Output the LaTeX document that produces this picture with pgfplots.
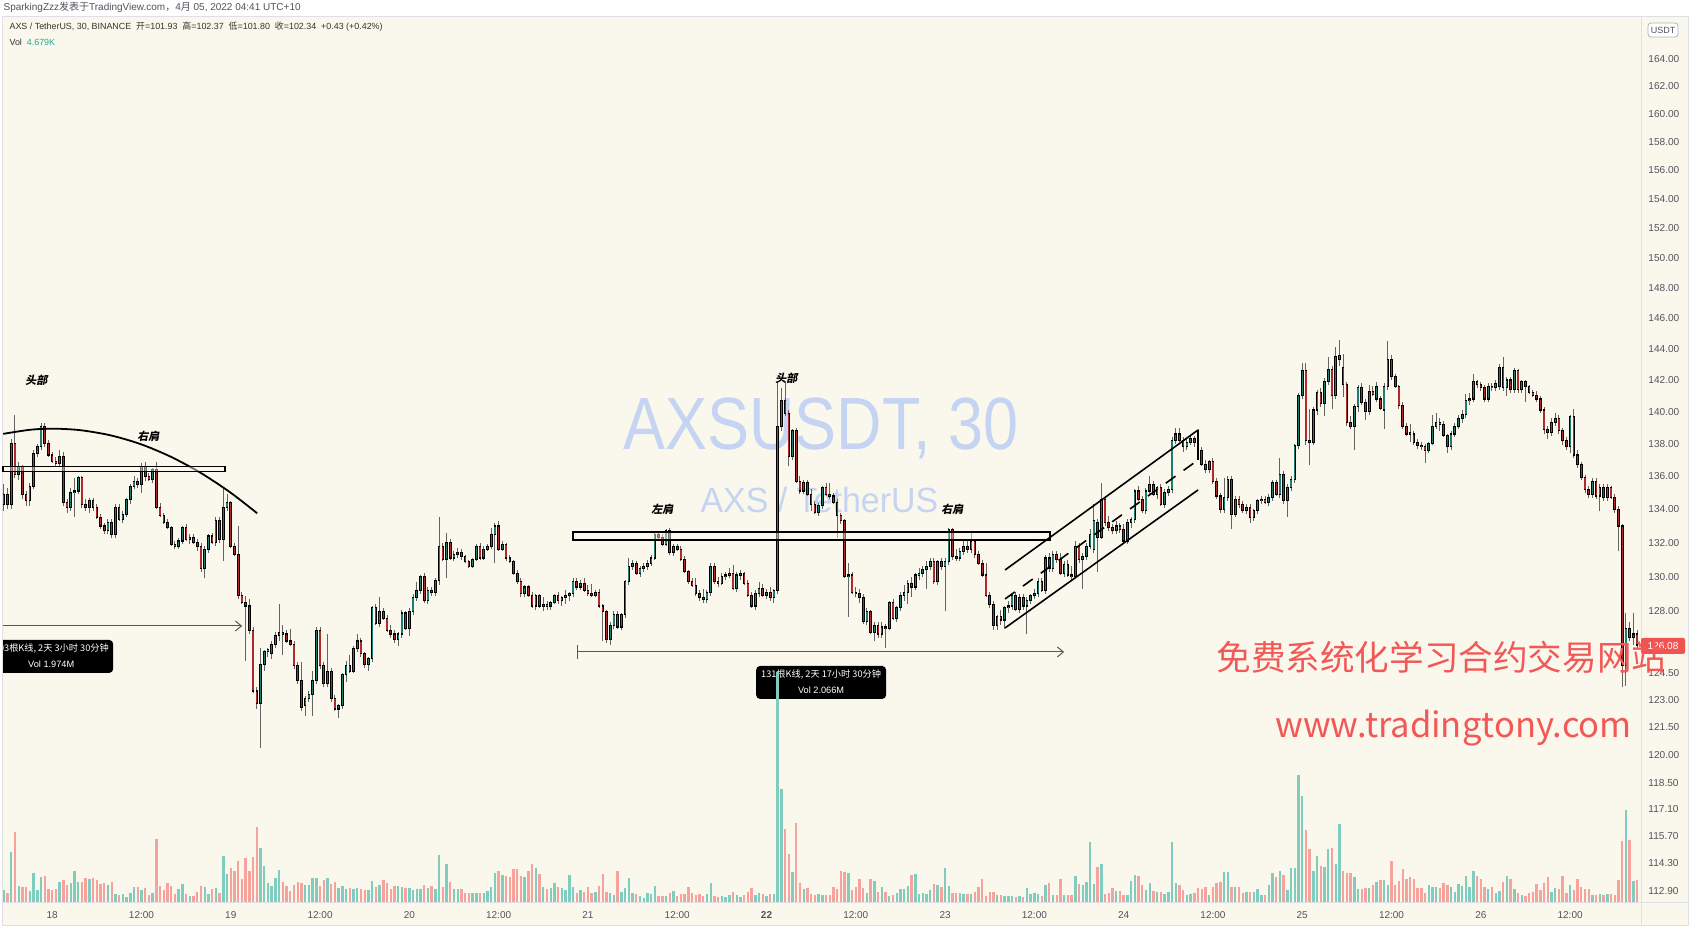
\documentclass[border=0pt]{standalone}
\usepackage{pgfplots}
\pgfplotsset{compat=1.18}
\usepackage{pgfplotstable}
\usepackage{fontspec}
\setmainfont{Liberation Sans}
\newfontfamily\cjk{Noto Sans CJK SC}
\usetikzlibrary{arrows.meta}

\definecolor{bg}{RGB}{250,248,236}
\definecolor{frame}{RGB}{222,224,230}
\definecolor{upc}{RGB}{30,125,112}
\definecolor{dnc}{RGB}{175,42,42}
\definecolor{wickc}{RGB}{100,100,100}
\definecolor{volup}{RGB}{128,204,190}
\definecolor{voldn}{RGB}{246,163,158}
\definecolor{axtext}{RGB}{80,83,94}
\definecolor{wm}{RGB}{197,212,242}
\definecolor{promo}{RGB}{242,88,88}
\definecolor{lastp}{RGB}{240,83,80}
\definecolor{teal}{RGB}{38,166,154}
\definecolor{tool}{RGB}{85,85,85}

% 30-minute candles, k = half-hours after 18 March 00:00, v = volume in K
\pgfplotstableread{
k o h l c v
-13 134.3 135.5 133.9 134.9 11.8
-12 134.9 135.3 134.0 134.3 9
-11 134.3 138.3 134.0 138.0 50
-10 138.0 139.8 135.9 136.1 70
-9 136.1 136.9 135.8 136.6 16
-8 136.6 136.7 134.6 134.9 15
-7 134.9 135.1 134.2 134.5 15
-6 134.5 135.6 134.2 135.4 11
-5 135.4 137.6 135.2 137.4 29
-4 137.4 138.0 137.2 137.8 12
-3 137.8 139.3 137.6 139.1 25
-2 139.1 139.3 137.8 138.0 26
-1 138.0 138.2 137.2 137.3 13
0 137.3 137.5 136.8 136.9 12
1 136.9 137.2 136.6 136.8 13
2 136.8 137.6 136.6 137.2 20
3 137.2 137.5 134.2 134.4 21.5
4 134.4 134.6 133.8 134.1 17
5 134.1 135.3 133.9 135.0 18.5
6 135.0 135.9 133.5 135.1 31
7 135.1 136.0 134.9 135.9 20
8 135.9 136.0 134.1 134.3 20
9 134.3 134.6 133.9 134.1 24
10 134.1 134.7 133.8 134.5 23
11 134.5 134.7 133.9 134.1 24
12 134.1 134.3 133.4 133.5 22
13 133.5 133.7 132.8 133.0 18
14 133.0 133.2 132.5 132.7 18.5
15 132.7 133.4 132.5 133.2 17
16 133.2 133.4 132.3 132.5 20
17 132.5 134.3 132.3 134.1 8
18 134.1 134.3 133.3 133.4 7
19 133.4 133.9 133.2 133.7 8
20 133.7 134.7 133.5 134.6 5
21 134.6 135.5 134.3 135.4 9
22 135.4 136.0 135.2 135.7 14.5
23 135.7 135.9 135.3 135.5 14.5
24 135.5 136.8 135.0 136.6 12
25 136.6 136.9 135.7 136.0 14
26 136.0 136.2 135.7 135.8 7
27 135.8 136.5 135.6 136.4 9
28 136.4 136.9 134.0 134.1 63
29 134.1 134.4 133.5 133.6 16
30 133.6 133.8 133.1 133.2 12
31 133.2 133.4 132.8 132.9 19
32 132.9 133.0 131.8 131.9 16
33 131.9 132.1 131.6 131.8 8
34 131.8 132.3 131.6 132.1 12.5
35 132.1 133.0 131.9 132.9 18
36 132.9 133.1 132.1 132.2 8
37 132.2 132.5 131.9 132.3 6
38 132.3 132.5 131.9 132.0 6
39 132.0 132.2 131.5 131.8 9.5
40 131.8 132.0 130.3 130.5 16
41 130.5 131.8 129.9 131.6 14.5
42 131.6 132.5 131.4 132.4 8
43 132.4 132.6 131.9 132.0 13
44 132.0 133.5 131.8 133.3 14
45 133.3 133.5 132.0 132.2 9
46 132.2 135.3 130.9 134.1 46
47 134.1 134.9 133.9 134.4 28
48 134.4 134.5 131.7 131.8 34
49 131.8 132.0 131.2 131.3 31
50 131.3 133.0 128.7 128.9 41
51 128.9 129.1 128.4 128.5 23
52 128.5 128.9 125.2 128.3 44
53 128.3 128.7 126.7 126.9 31
54 126.9 127.1 123.4 123.5 45
55 123.5 123.7 122.5 122.8 75
56 122.8 125.9 120.4 125.0 54
57 125.0 125.8 124.6 125.7 36
58 125.7 125.9 125.4 125.8 18.5
59 125.6 126.3 125.3 126.1 16
60 126.1 126.8 125.9 126.6 24
61 126.6 128.4 126.3 126.8 32
62 126.8 127.2 125.5 126.7 20
63 126.7 126.9 126.2 126.3 16
64 126.3 127.0 126.0 126.1 11
65 126.1 126.3 124.7 124.9 17
66 124.9 125.1 123.9 124.1 20
67 124.1 125.1 122.4 122.6 18.5
68 122.7 123.2 122.1 123.1 17
69 123.1 123.5 122.9 123.3 17
70 123.3 124.6 122.1 124.1 23.5
71 124.1 127.1 123.9 126.9 23.5
72 126.9 127.1 124.7 124.9 16
73 124.9 125.1 123.7 123.9 22
74 123.9 126.7 123.7 124.6 24
75 124.6 124.8 122.9 123.1 18
76 123.1 123.3 122.4 122.5 20
77 122.5 122.8 122.0 122.7 13.5
78 122.7 124.5 122.5 124.4 15.5
79 124.4 125.2 124.0 124.9 13
80 124.9 125.5 124.5 124.6 14
81 124.6 126.0 124.5 125.9 13
82 125.9 126.7 125.7 126.3 14
83 126.3 126.5 125.4 125.6 13
84 125.6 125.7 124.8 125.0 12
85 125.0 125.4 124.6 125.3 12
86 125.3 128.3 125.1 128.2 21
87 128.2 128.4 127.2 127.3 14.5
88 127.3 128.8 127.1 128.0 17
89 128.0 128.2 127.5 127.6 21.5
90 127.6 127.8 126.8 126.9 18.5
91 126.9 127.2 126.5 126.7 13
92 126.7 126.9 126.2 126.4 16
93 126.4 126.8 126.0 126.7 16
94 126.7 128.1 126.5 127.9 14.5
95 127.9 128.0 126.9 127.0 13.5
96 127.0 128.2 126.6 128.0 14
97 128.0 129.0 127.8 128.8 12
98 128.8 129.7 128.6 129.2 12.5
99 129.2 130.1 129.0 130.0 12.5
100 130.0 130.2 128.5 128.6 17
101 128.6 129.4 128.4 129.2 14
102 129.2 129.4 128.9 129.1 16
103 129.1 129.9 128.9 129.8 12.5
104 129.8 133.5 129.5 131.8 46.5
105 131.8 132.0 130.9 131.0 15
106 131.0 132.6 129.9 132.0 38
107 132.0 132.2 131.0 131.1 20
108 131.1 131.5 130.9 131.3 12.5
109 131.3 131.7 131.1 131.4 13
110 131.4 131.6 131.0 131.2 13
111 131.2 131.3 130.8 130.9 9
112 130.9 131.0 130.5 130.6 9
113 130.6 131.1 130.5 131.0 9
114 131.0 131.9 130.9 131.8 9
115 131.8 132.0 131.0 131.1 9
116 131.1 131.8 131.0 131.6 9
117 131.6 131.9 131.5 131.8 11
118 131.8 132.9 131.6 132.5 15
119 132.5 133.2 130.8 133.0 29
120 133.0 133.3 131.5 131.6 31
121 131.6 132.1 131.5 131.9 26.5
122 131.9 132.0 130.9 131.1 26
123 131.1 131.3 130.8 130.9 24.5
124 130.9 131.0 130.1 130.2 32.5
125 130.2 130.4 129.6 129.7 33
126 129.7 129.9 128.8 129.0 26
127 129.0 129.5 128.8 129.4 25
128 129.4 129.5 128.8 128.9 31
129 128.9 129.1 128.2 128.3 38
130 128.3 129.0 128.1 128.9 34
131 128.9 129.0 128.2 128.3 28
132 128.3 128.8 128.0 128.4 15
133 128.4 128.6 128.1 128.3 12.5
134 128.3 128.6 128.1 128.5 14
135 128.5 129.0 128.4 128.9 18.5
136 128.9 129.1 128.4 128.6 14.5
137 128.6 128.9 128.3 128.8 13.5
138 128.8 129.2 128.4 128.9 12
139 128.9 129.1 128.6 129.0 27
140 129.0 129.9 128.8 129.7 14.5
141 129.7 129.9 129.2 129.4 8.5
142 129.4 129.8 129.2 129.6 12
143 129.6 129.9 129.1 129.2 10
144 129.2 129.5 128.9 129.0 14.5
145 129.0 129.6 128.8 128.9 8.5
146 128.9 129.2 128.8 129.1 9.5
147 129.1 129.3 128.2 128.3 16
148 128.3 128.4 126.3 128.0 27.5
149 128.0 128.1 126.2 126.4 9.5
150 126.4 127.4 126.1 127.2 9
151 127.2 128.0 127.0 127.8 7
152 127.8 128.0 127.0 127.1 31
153 127.1 127.9 126.9 127.8 9.5
154 127.8 129.8 127.6 129.7 13.5
155 129.7 131.1 129.5 130.6 23.5
156 130.6 131.0 130.4 130.8 9
157 130.8 130.9 130.1 130.2 8
158 130.2 130.6 130.0 130.5 6
159 130.5 130.8 130.3 130.6 3.5
160 130.6 131.0 130.4 130.8 8.5
161 130.8 131.3 130.6 131.1 8
162 131.1 132.6 131.0 132.5 15.5
163 132.5 132.7 132.1 132.3 5.5
164 132.3 132.5 131.8 131.9 6
165 131.9 132.8 131.8 132.7 6
166 132.7 132.9 131.3 131.4 8.5
167 131.4 131.9 131.2 131.8 10.5
168 131.8 131.9 131.5 131.6 6
169 131.6 131.8 130.9 131.0 7.5
170 131.0 131.2 130.2 130.3 8
171 130.3 130.4 129.6 129.7 15
172 129.7 129.9 129.4 129.5 8.5
173 129.5 129.9 128.9 129.0 7
174 129.0 129.2 128.6 128.8 7.5
175 128.8 129.3 128.5 128.7 6
176 128.7 129.2 128.5 129.1 8
177 129.1 130.8 128.9 130.6 18.5
178 130.6 130.8 129.6 129.7 6
179 129.7 130.0 129.4 129.6 5
180 129.6 130.2 129.5 130.0 6
181 130.0 130.3 129.8 130.1 5
182 130.1 130.5 129.9 130.2 7
183 130.2 130.7 129.2 129.3 10
184 129.3 130.3 129.1 130.1 6.5
185 130.1 130.4 129.8 130.2 4.5
186 130.2 130.3 129.5 129.6 7
187 129.6 129.8 128.8 128.9 10
188 128.9 129.1 128.2 128.3 13.5
189 128.3 129.2 128.1 129.0 6.5
190 129.0 129.7 128.8 129.3 9
191 129.3 129.6 128.8 128.9 8
192 128.9 129.3 128.7 129.1 6
193 129.1 129.4 128.6 128.8 8
194 128.8 129.3 128.5 129.2 7.5
195 129.2 141.9 129.0 139.1 230
196 139.1 141.5 138.8 140.7 113
197 140.7 141.9 139.7 139.9 73
198 139.9 140.1 136.6 137.2 48
199 137.2 138.9 137.0 138.8 30
200 138.8 139.0 135.6 135.7 78.5
201 135.7 136.0 134.9 135.1 19
202 135.1 135.8 134.9 135.6 13
203 135.6 135.8 134.8 134.9 14
204 134.9 135.2 133.9 134.3 8
205 134.3 134.5 133.7 133.8 7
206 133.8 134.4 133.6 134.2 8
207 134.2 135.4 134.0 135.3 7
208 135.3 135.6 134.8 134.9 7
209 134.9 135.6 134.6 134.8 7
210 134.8 135.0 134.3 134.4 15
211 134.4 134.6 132.3 133.6 13
212 133.6 133.8 133.1 133.3 31
213 133.3 133.4 129.9 130.0 30
214 130.0 130.8 127.7 130.1 28.6
215 130.1 130.3 129.0 129.1 12
216 129.1 129.4 128.8 129.0 14.5
217 129.0 129.3 128.5 128.8 23
218 128.8 129.0 127.3 127.4 14
219 127.4 128.2 127.2 128.0 9
220 128.0 128.1 126.7 126.8 23
221 126.8 127.4 126.3 127.2 21
222 127.2 127.4 126.5 126.7 10
223 126.7 127.4 126.5 127.1 15
224 127.1 127.3 125.9 127.0 9.5
225 127.0 128.6 126.9 128.5 5.5
226 128.5 128.7 127.5 127.6 7
227 127.6 128.3 127.4 128.2 9
228 128.2 129.1 128.0 128.9 13
229 128.9 129.5 128.6 129.1 13
230 129.1 129.8 128.4 129.6 16
231 129.6 130.0 128.8 129.4 26.5
232 129.4 130.2 129.2 130.1 28
233 130.1 130.5 129.8 130.2 8
234 130.2 130.6 130.0 130.4 9
235 130.4 130.9 129.3 130.6 8
236 130.6 131.1 130.4 130.9 12
237 130.9 131.1 129.6 129.7 18
238 129.7 131.0 129.5 130.9 17
239 130.9 131.1 130.4 130.6 14.5
240 130.6 131.1 128.0 130.9 34
241 130.9 132.9 130.7 132.8 15.5
242 132.8 132.9 131.0 131.2 8.5
243 131.2 131.6 130.9 131.1 9
244 131.1 131.7 130.9 131.5 8.5
245 131.5 132.2 131.3 131.8 8
246 131.8 132.1 131.4 131.6 8
247 131.6 132.6 131.4 132.1 8
248 132.1 132.2 131.1 131.3 10
249 131.3 131.5 130.7 130.8 15
250 130.8 131.0 130.0 130.1 23
251 130.1 130.8 128.8 128.9 5.5
252 128.9 129.1 128.2 128.4 9.5
253 128.4 128.6 126.9 127.2 9.5
254 127.2 127.8 126.9 127.7 6.5
255 127.7 128.1 127.2 127.5 7
256 127.5 128.3 127.0 128.2 6
257 128.2 128.6 127.9 128.3 6
258 128.3 129.0 128.1 128.9 6
259 128.9 129.1 128.0 128.1 5
260 128.1 129.0 127.9 128.8 6
261 128.8 129.0 128.1 128.3 5
262 128.3 128.8 126.7 128.6 14
263 128.6 129.0 128.4 128.9 8
264 128.9 129.3 128.7 129.0 8.5
265 129.0 129.9 128.8 129.7 8
266 129.7 129.9 129.1 129.2 5.5
267 129.2 131.3 129.0 131.1 16.5
268 131.1 131.4 130.3 130.5 19
269 130.5 131.5 130.3 131.3 7
270 131.3 131.5 130.8 131.0 7
271 131.0 131.4 130.1 130.2 23
272 130.2 130.9 130.0 130.7 7
273 130.7 131.0 130.0 130.1 7
274 130.1 130.6 129.8 130.0 7
275 130.0 132.1 129.9 131.8 26
276 131.8 132.0 130.8 131.0 18
277 131.0 131.4 129.3 131.2 17
278 131.2 132.0 131.0 131.8 19.5
279 131.8 132.8 131.6 132.5 60
280 131.6 134.3 131.4 133.3 18
281 133.2 133.4 130.3 132.3 35
282 132.3 135.6 132.2 134.6 38
283 134.6 134.8 133.0 133.2 8
284 133.2 133.6 132.7 132.9 8.5
285 132.9 133.1 132.5 132.7 13.5
286 132.7 133.3 132.5 133.0 10.5
287 133.0 133.2 132.6 132.8 10.5
288 132.8 133.1 132.0 132.1 7
289 132.1 133.4 131.9 133.2 7
290 133.2 133.5 132.9 133.4 21
291 133.4 135.2 133.2 135.1 27
292 135.1 135.4 134.5 134.6 26
293 134.6 134.8 133.8 133.9 16.5
294 133.9 135.3 133.7 135.1 12
295 135.1 136.0 134.9 135.5 19
296 135.5 135.7 134.8 134.9 11
297 134.9 135.4 134.6 135.3 10
298 135.3 135.5 134.2 134.3 9.5
299 134.3 135.2 134.1 135.0 7.5
300 135.0 135.4 134.8 135.2 10
301 135.2 138.4 135.0 138.2 60
302 138.2 139.0 138.0 138.6 18.5
303 138.6 139.0 138.1 138.2 17
304 138.2 138.4 137.5 137.8 12
305 137.8 138.3 137.6 138.1 7
306 138.1 138.5 137.9 138.3 8
307 138.3 138.5 137.8 138.1 8.5
308 138.1 138.9 137.5 137.6 13.5
309 137.6 137.8 136.6 136.7 13
310 136.7 137.0 136.2 136.4 14.5
311 136.4 137.0 136.2 136.9 6.5
312 136.9 137.1 135.5 135.7 14.5
313 135.7 135.9 134.6 134.8 18.5
314 134.8 135.0 133.8 134.0 20
315 134.0 135.9 133.8 134.7 30
316 134.7 136.0 134.5 135.8 30
317 135.8 136.0 132.8 133.7 15
318 133.7 134.8 133.5 134.6 15
319 134.6 134.8 134.1 134.3 14.5
320 134.3 134.5 133.8 133.9 8.5
321 133.9 134.3 133.7 134.1 9.5
322 134.1 134.3 133.2 133.5 10
323 133.5 134.0 133.3 133.9 10
324 133.9 134.6 133.7 134.5 13
325 134.5 134.8 134.3 134.6 7
326 134.6 134.8 134.3 134.4 7
327 134.4 134.9 134.2 134.7 17
328 134.7 135.8 134.5 135.6 28.5
329 135.6 135.8 134.8 134.9 24.5
330 134.9 137.1 134.7 136.1 31
331 136.1 136.3 134.3 134.5 27
332 134.5 135.5 133.5 135.3 12
333 135.3 136.0 135.1 135.8 34
334 135.8 138.0 135.6 137.9 34
335 137.9 141.2 137.7 141.0 127
336 141.0 143.1 140.8 142.6 106
337 142.6 143.1 137.9 138.2 72
338 138.2 140.2 136.7 138.1 52.5
339 138.1 140.3 137.9 140.1 31
340 140.1 141.4 139.8 141.2 46
341 141.2 141.5 140.3 140.5 36
342 140.5 142.1 139.7 141.9 35
343 141.9 143.5 141.7 142.7 53
344 142.7 142.9 140.2 141.0 54
345 141.0 144.1 140.8 143.5 38
346 143.3 144.6 142.9 143.6 78
347 142.8 143.7 140.9 141.7 31
348 141.7 141.9 139.1 139.3 29
349 139.3 139.7 138.9 139.1 28.6
350 139.1 140.5 137.6 140.3 25
351 140.3 141.7 140.0 141.5 13
352 141.5 141.8 140.4 140.6 13
353 140.6 140.8 139.5 140.0 13.5
354 140.0 141.7 139.8 141.3 14
355 141.3 141.6 141.0 141.1 17
356 140.8 141.9 140.6 141.6 20
357 140.8 141.0 140.1 140.2 22
358 140.1 141.8 138.9 141.6 22
359 141.6 144.5 141.4 143.3 17
360 143.3 143.6 142.0 142.2 41
361 142.2 142.4 141.5 141.6 17
362 141.6 141.7 140.2 140.4 21
363 140.4 140.6 138.9 139.1 33
364 139.1 139.3 138.5 138.6 22.5
365 138.7 139.2 138.1 138.6 25
366 138.6 138.8 137.9 138.1 22.5
367 138.1 138.3 137.7 137.9 13.5
368 137.9 138.1 137.6 137.8 14
369 137.8 138.0 136.8 137.6 8.5
370 137.6 138.1 137.4 138.0 17
371 138.0 139.8 137.9 139.1 14.5
372 139.1 139.9 138.9 139.3 15
373 139.3 139.6 138.8 139.2 14
374 139.2 139.4 138.4 138.5 18.5
375 138.5 138.6 137.4 137.8 17
376 137.8 138.8 137.6 138.6 14.5
377 138.6 139.3 138.4 139.1 9.5
378 139.1 139.8 138.9 139.6 17.5
379 139.6 140.1 139.3 139.8 16
380 139.8 141.1 139.6 140.7 26
381 140.7 141.2 140.4 140.8 15
382 140.8 142.4 140.6 141.9 31
383 141.9 142.0 141.5 141.7 25.5
384 141.7 141.9 141.3 141.5 23
385 141.5 141.7 140.6 140.8 15
386 140.8 141.8 140.6 141.6 12.5
387 141.6 141.8 141.3 141.5 14.5
388 141.5 142.0 141.3 141.8 9
389 141.6 143.0 141.4 142.8 10.5
390 142.8 143.5 141.3 141.5 20
391 141.5 142.2 141.0 142.0 26
392 142.0 142.2 141.2 141.4 22.5
393 141.4 142.8 141.2 142.6 13
394 142.6 142.7 141.2 141.4 9
395 141.4 142.0 141.2 141.9 7
396 141.9 142.0 140.6 141.6 6
397 141.6 141.7 141.1 141.2 9
398 141.2 141.4 140.9 141.0 9.5
399 141.0 141.3 140.6 140.8 18
400 140.8 141.0 139.9 140.1 12
401 140.1 140.3 138.6 138.9 18.5
402 138.9 139.1 138.3 138.7 25
403 138.7 139.6 138.5 139.3 9.5
404 139.3 139.9 139.1 139.6 13.5
405 139.6 139.8 138.6 138.8 13
406 138.8 139.0 137.9 138.2 26
407 138.2 138.4 137.6 137.8 9
408 137.8 139.8 137.4 139.7 17
409 139.7 140.2 137.1 137.3 11.5
410 137.3 137.6 136.5 136.7 23
411 136.7 136.9 135.8 135.9 15
412 135.9 136.1 135.0 135.2 13
413 135.2 135.4 134.7 134.9 13
414 134.9 135.9 134.7 135.7 6.5
415 135.7 135.9 134.6 134.8 6.5
416 134.8 135.5 133.9 135.3 7.5
417 135.3 135.5 134.5 134.7 7
418 134.7 135.5 134.5 135.3 8
419 135.3 135.4 134.6 134.7 8
420 134.7 134.9 133.8 134.0 7
421 134.0 134.2 131.5 133.0 22
422 133.0 133.1 123.7 124.9 60.5
423 124.9 127.9 123.8 127.0 92
424 127.0 127.4 126.3 126.5 61.5
425 126.5 127.9 126.1 126.7 21
426 126.7 126.9 125.9 126.08 21.5
}\ohlc

\pgfplotsset{
  chartgeom/.style={
    at={(0pt,-451pt)}, anchor=south west, scale only axis,
    width=820.5pt, height=442pt,
    xmin=-13.975, xmax=427.06,
  },
  candlepart/.style={
    draw=none, mark=none,
    error bars/.cd, y dir=plus, y explicit, error mark=none,
    error bar style={#1},
  },
}

\begin{document}
\begin{tikzpicture}
\begin{scope}[x=0.5pt,y=-0.5pt]
  \path[use as bounding box] (0,0) rectangle (1690,928);
  \fill[white] (0,0) rectangle (1690,928);
  \fill[bg] (2,16) rectangle (1688,926);
  % watermark
  \node[anchor=base west, inner sep=0pt, xscale=0.85, text=wm,
        font=\fontsize{37}{40}\selectfont] at (623,450) {AXSUSDT, 30};
  \node[anchor=base west, inner sep=0pt, xscale=0.97, text=wm,
        font=\fontsize{17.5}{20}\selectfont] at (700,513) {AXS / TetherUS};
  % date range tools
  \begin{scope}
    \clip (3,16) rectangle (1641,903);
    \draw[tool, line width=0.5pt, -{Straight Barb[length=3pt,width=5pt]}] (-5,626) -- (242,626);
    \fill[black, rounded corners=2pt] (-25,640) rectangle (113,673);
    \node[anchor=east, inner sep=0pt, text=white, font=\cjk\fontsize{4.6}{5}\selectfont]
      at (109,649) {103根K线, 2天 3小时 30分钟};
    \node[inner sep=0pt, text=white, font=\fontsize{4.6}{5}\selectfont] at (51,664) {Vol 1.974M};
  \end{scope}
  \draw[tool, line width=0.5pt, -{Straight Barb[length=3pt,width=5pt]}] (577,652) -- (1064,652);
  \draw[tool, line width=0.5pt] (577,645) -- (577,659);
  \fill[black, rounded corners=2pt] (756,666) rectangle (886,699);
  \node[inner sep=0pt, text=white, font=\cjk\fontsize{4.6}{5}\selectfont]
    at (821,675) {131根K线, 2天 17小时 30分钟};
  \node[inner sep=0pt, text=white, font=\fontsize{4.6}{5}\selectfont] at (821,690) {Vol 2.066M};
\end{scope}

% volume
\begin{axis}[chartgeom, ymin=0, ymax=884, hide axis]
  \addplot[ycomb, draw=volup, line width=1.2pt, mark=none]
    table[x=k, y expr={\thisrow{c}>=\thisrow{o} ? \thisrow{v} : nan}] {\ohlc};
  \addplot[ycomb, draw=voldn, line width=1.2pt, mark=none]
    table[x=k, y expr={\thisrow{c}<\thisrow{o} ? \thisrow{v} : nan}] {\ohlc};
\end{axis}

% candles on a log price scale (y = ln price)
\begin{axis}[chartgeom, ymin=4.72156, ymax=5.11827,
    axis line style={draw=none}, major tick length=0pt,
    ytick={5.09987,5.08760,5.07517,5.06260,5.04986,5.03695,5.02388,5.01064,4.99721,
           4.98361,4.96981,4.95583,4.94164,4.92725,4.91265,4.89784,4.88280,4.86753,
           4.85203,4.82431,4.81218,4.79991,4.78749,4.77491,4.76303,4.75100,4.73883,4.72650},
    yticklabels={164.00,162.00,160.00,158.00,156.00,154.00,152.00,150.00,148.00,
           146.00,144.00,142.00,140.00,138.00,136.00,134.00,132.00,130.00,
           128.00,124.50,123.00,121.50,120.00,118.50,117.10,115.70,114.30,112.90},
    yticklabel pos=right,
    yticklabel style={anchor=west, inner sep=0pt, xshift=3.5pt, text=axtext,
                      font=\fontsize{5.05}{6}\selectfont},
    xtick={0,24,...,408},
    xticklabels={18,12:00,19,12:00,20,12:00,21,12:00,\textbf{22},12:00,
                 23,12:00,24,12:00,25,12:00,26,12:00},
    xticklabel style={anchor=base, inner sep=0pt, yshift=-8.3pt, text=axtext,
                      font=\fontsize{5}{6}\selectfont},
  ]
  % wicks
  \addplot[candlepart={draw=wickc, line width=0.5pt}]
    table[x=k, y expr={ln(\thisrow{l})},
          y error plus expr={ln(\thisrow{h})-ln(\thisrow{l})}] {\ohlc};
  % body outline
  \addplot[candlepart={draw=black, line width=1.3pt}]
    table[x=k, y expr={ln(min(\thisrow{o},\thisrow{c}))-0.00025},
          y error plus expr={ln(max(\thisrow{o},\thisrow{c}))-ln(min(\thisrow{o},\thisrow{c}))+0.0005}] {\ohlc};
  % body fill, rising
  \addplot[candlepart={draw=upc, line width=0.6pt}]
    table[x=k, y expr={\thisrow{c}>=\thisrow{o} ? ln(\thisrow{o})+0.00025 : nan},
          y error plus expr={max(ln(\thisrow{c})-ln(\thisrow{o})-0.0005,0)}] {\ohlc};
  % body fill, falling
  \addplot[candlepart={draw=dnc, line width=0.6pt}]
    table[x=k, y expr={\thisrow{c}<\thisrow{o} ? ln(\thisrow{c})+0.00025 : nan},
          y error plus expr={max(ln(\thisrow{o})-ln(\thisrow{c})-0.0005,0)}] {\ohlc};
\end{axis}

\begin{scope}[x=0.5pt,y=-0.5pt]
  % frame lines
  \draw[frame, line width=0.5pt] (1641,16) -- (1641,926);
  \draw[frame, line width=0.5pt] (2,903) -- (1688,903);
  \draw[frame, line width=0.5pt] (2,16) rectangle (1688,926);
  % head and shoulders drawings
  \draw[black, line width=0.9pt] plot[smooth] coordinates
    {(3,433.9) (30,429.8) (53,428.7) (80,430.2) (110,435.3) (140,444.0)
     (170,456.5) (200,472.6) (230,492.4) (257,513.3)};
  \draw[black, line width=0.8pt, fill=bg, fill opacity=0.45] (3,466.5) rectangle (225,471.5);
  \draw[black, line width=0.8pt, fill=bg, fill opacity=0.45] (573,532) rectangle (1050,540);
  \node[font=\cjk\bfseries\fontsize{5.5}{6}\selectfont, xslant=0.2] at (37,380) {头部};
  \node[font=\cjk\bfseries\fontsize{5.5}{6}\selectfont, xslant=0.2] at (149,436) {右肩};
  \node[font=\cjk\bfseries\fontsize{5.5}{6}\selectfont, xslant=0.2] at (663,509) {左肩};
  \node[font=\cjk\bfseries\fontsize{5.5}{6}\selectfont, xslant=0.2] at (787,378) {头部};
  \node[font=\cjk\bfseries\fontsize{5.5}{6}\selectfont, xslant=0.2] at (953,509) {右肩};
  % rising channel
  \draw[black, line width=0.8pt] (1005,570) -- (1198,430);
  \draw[black, line width=0.8pt] (1005,628) -- (1198,490);
  \draw[black, line width=0.8pt, dash pattern=on 6pt off 5pt] (1005,599) -- (1198,460);
  \draw[black, line width=0.8pt] (1198,430) -- (1198,460);
  % header and legend
  \node[anchor=west, inner sep=0pt, text=axtext, font=\fontsize{5}{6}\selectfont] at (3,7.5)
    {SparkingZzz{\cjk 发表于}TradingView.com{\cjk ，}4{\cjk 月} 05, 2022 04:41 UTC+10};
  \node[anchor=west, inner sep=0pt, text=black!80, font=\fontsize{4.45}{5.5}\selectfont] at (9,27)
    {AXS / TetherUS, 30, BINANCE\ \ {\cjk 开}=101.93\ \ {\cjk 高}=102.37\ \ {\cjk 低}=101.80\ \ {\cjk 收}=102.34\ \ +0.43 (+0.42\%)};
  \node[anchor=west, inner sep=0pt, text=black!80, font=\fontsize{4.45}{5.5}\selectfont] at (9,42)
    {Vol\ \ \textcolor{teal}{4.679K}};
  % price scale extras
  \draw[frame!80!black, line width=0.4pt, fill=white, rounded corners=1.5pt] (1648,23) rectangle (1678,37);
  \node[text=axtext, font=\fontsize{4.5}{5}\selectfont] at (1663,30) {USDT};
  \fill[lastp, rounded corners=1pt] (1641,638) rectangle (1685,654);
  \node[text=white, font=\fontsize{5.05}{6}\selectfont] at (1663,646) {126.08};
  % promo text
  \node[anchor=west, inner sep=0pt, text=promo, font=\cjk\fontsize{17.3}{20}\selectfont]
    at (1216,657) {免费系统化学习合约交易网站};
  \node[anchor=base west, inner sep=0pt, text=promo, font=\cjk\fontsize{17.3}{20}\selectfont]
    at (1275,738) {www.tradingtony.com};
\end{scope}
\end{tikzpicture}
\end{document}
